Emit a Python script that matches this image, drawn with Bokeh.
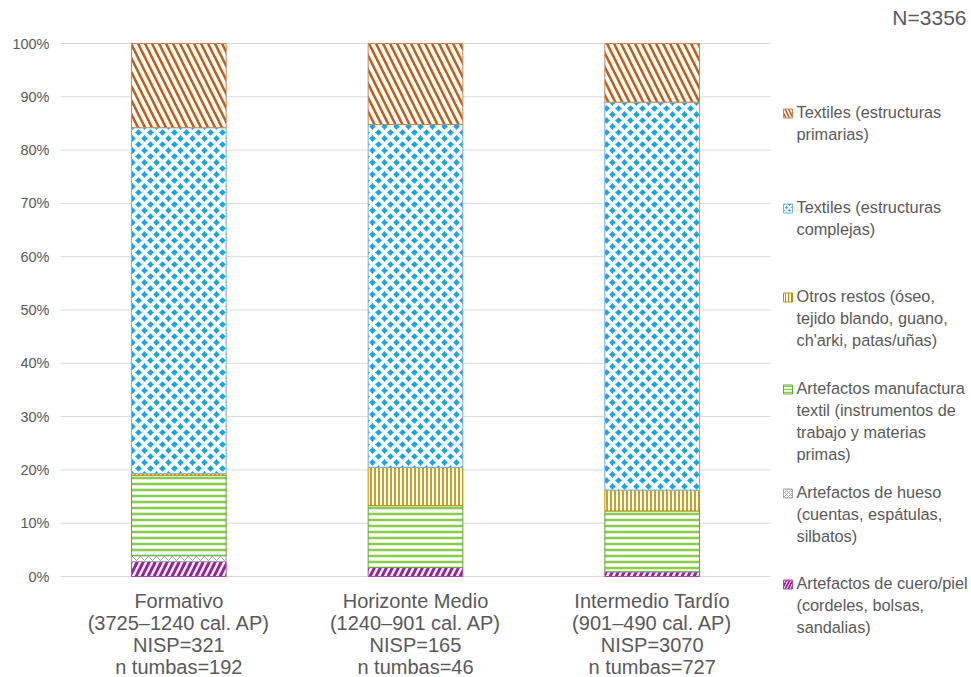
from bokeh.plotting import figure
from bokeh.models import ColumnDataSource, Range1d
from bokeh.embed import file_html
from bokeh.resources import INLINE
from bokeh.core.properties import value

# ---------------- data ----------------
periodos = ["Formativo", "Horizonte Medio", "Intermedio Tardío"]
rangos = ["(3725–1240 cal. AP)", "(1240–901 cal. AP)", "(901–490 cal. AP)"]
nisp = ["NISP=321", "NISP=165", "NISP=3070"]
tumbas = ["n tumbas=192", "n tumbas=46", "n tumbas=727"]

# percentages, stacked bottom -> top
cuero = [2.8, 1.7, 0.9]
hueso = [1.1, 0.0, 0.0]
manufactura = [15.1, 11.6, 11.4]
otros = [0.3, 7.2, 3.9]
complejas = [64.9, 64.3, 72.8]
primarias = [15.8, 15.2, 11.0]

series_keys = ["cuero", "hueso", "manufactura", "otros", "complejas", "primarias"]
series_labels = [
    "Artefactos de cuero/piel\n(cordeles, bolsas,\nsandalias)",
    "Artefactos de hueso\n(cuentas, espátulas,\nsilbatos)",
    "Artefactos manufactura\ntextil (instrumentos de\ntrabajo y materias\nprimas)",
    "Otros restos (óseo,\ntejido blando, guano,\nch'arki, patas/uñas)",
    "Textiles (estructuras\ncomplejas)",
    "Textiles (estructuras\nprimarias)",
]
y_ticks = [0, 10, 20, 30, 40, 50, 60, 70, 80, 90, 100]
total_n = "N=3356"

# ---------------- styles ----------------
styles = {
    "cuero": dict(fill_color="white", hatch_color="#9E1F9E", hatch_pattern="/", hatch_scale=12, hatch_weight=3, line_color="#A64CA6"),
    "hueso": dict(fill_color="white", hatch_color="#A5A5A5", hatch_pattern="x", hatch_scale=8, hatch_weight=1, line_color="#A5A5A5"),
    "manufactura": dict(fill_color="white", hatch_color="#8CCB4E", hatch_pattern="-", hatch_scale=6, hatch_weight=2.6, line_color="#5DAA34"),
    "otros": dict(fill_color="white", hatch_color="#BF8F00", hatch_pattern="|", hatch_scale=4, hatch_weight=1.7, line_color="#BF8F00"),
    "complejas": dict(fill_color="#14A6E8", hatch_color="white", hatch_pattern="x", hatch_scale=12, hatch_weight=3.8, line_color="#7FB0E0"),
    "primarias": dict(fill_color="white", hatch_color="#C55A11", hatch_pattern="\\", hatch_scale=14, hatch_weight=2.5, line_color="#C8845A"),
}
text_color = "#595959"
grid_color = "#D9D9D9"
font = value("Liberation Sans")

# ---------------- layout (pixels) ----------------
W, H = 971, 677
PLOT_L, PLOT_R, PLOT_T, PLOT_B = 60, 770, 43, 576   # plotting area inside the canvas
n = len(periodos)
unit_x = (PLOT_R - PLOT_L) / n          # px per category
unit_y = (PLOT_B - PLOT_T) / 100.0      # px per percent


def px2x(px):
    return (px - PLOT_L) / unit_x


def px2y(py):
    return (PLOT_B - py) / unit_y


p = figure(width=W, height=H, x_range=Range1d(px2x(0), px2x(W)), y_range=Range1d(px2y(H), px2y(0)),
           output_backend="svg", toolbar_location=None, min_border=0,
           x_axis_location=None, y_axis_location=None)
p.outline_line_color = None
p.grid.visible = False

# gridlines and y tick labels
p.segment(x0=[0] * len(y_ticks), x1=[n] * len(y_ticks), y0=y_ticks, y1=y_ticks,
          line_color=grid_color, line_width=1)
p.text(x=[px2x(49)] * len(y_ticks), y=y_ticks, text=[f"{t}%" for t in y_ticks],
       text_font=font, text_font_size="14.5px", text_color=text_color,
       text_align="right", text_baseline="middle")

# stacked bars
xs = [i + 0.5 for i in range(n)]
data = dict(cuero=cuero, hueso=hueso, manufactura=manufactura,
            otros=otros, complejas=complejas, primarias=primarias)
bottom = [0.0] * n
for key in series_keys:
    top = [b + v for b, v in zip(bottom, data[key])]
    src = ColumnDataSource(dict(x=xs, bottom=bottom, top=top))
    p.vbar(x="x", bottom="bottom", top="top", width=0.4, source=src, line_width=1, **styles[key])
    bottom = top

# category labels
cat_labels = ["\n".join(t) for t in zip(periodos, rangos, nisp, tumbas)]
p.text(x=xs, y=[px2y(589)] * n, text=cat_labels, text_font=font, text_font_size="20px",
       text_color=text_color, text_align="center", text_baseline="top", text_line_height=1.0)

# legend
legend_first_line_y = [584, 493, 389, 297, 208, 113]   # pixel y of first text line
for key, lab, ly in zip(series_keys, series_labels, legend_first_line_y):
    st = dict(styles[key])
    st["hatch_scale"] = max(3, st["hatch_scale"] * 0.5)
    st["hatch_weight"] = max(1, st["hatch_weight"] * 0.6)
    p.rect(x=[px2x(787.5)], y=[px2y(ly)], width=9, height=9,
           width_units="screen", height_units="screen", line_width=1, **st)
    p.text(x=[px2x(796)], y=[px2y(ly - 11)], text=[lab], text_font=font, text_font_size="16.3px",
           text_color=text_color, text_baseline="top", text_align="left", text_line_height=1.23)

p.text(x=[px2x(966)], y=[px2y(17)], text=[total_n], text_font=font, text_font_size="21px",
       text_color=text_color, text_baseline="middle", text_align="right")

open("out.html", "w").write(file_html(p, INLINE))
